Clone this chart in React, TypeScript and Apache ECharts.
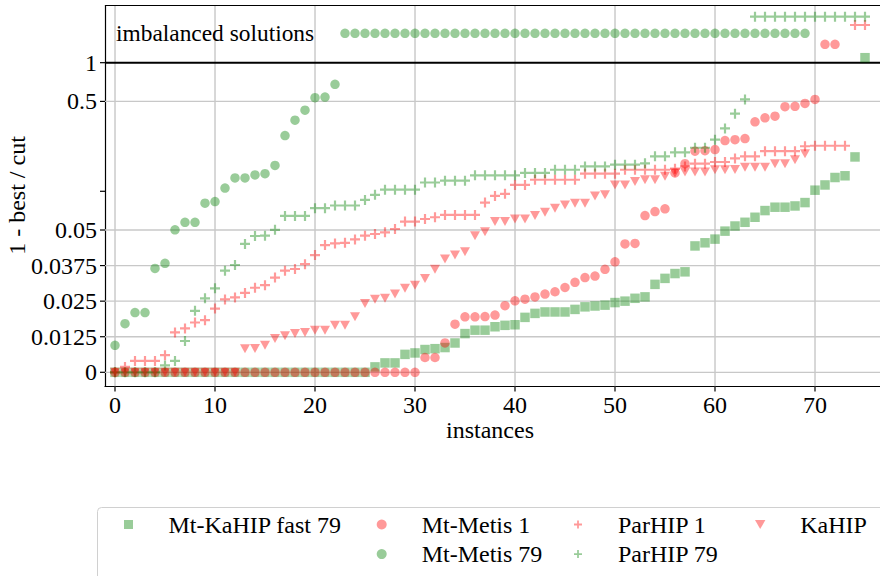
import React, { useEffect, useRef } from 'react';
import * as echarts from 'echarts';

// ---------- data ----------
const IMB = -1; // imbalanced solution marker

const X_TICKS = [0, 10, 20, 30, 40, 50, 60, 70];
const Y_TICKS = [0, 0.0125, 0.025, 0.0375, 0.05, 0.1, 0.5, 1];
const Y_TICK_LABELS = ['0', '0.0125', '0.025', '0.0375', '0.05', '', '0.5', '1'];

const MT_KAHIP_FAST_79 = [
  0, 0, 0, 0, 0, 0, 0, 0, 0, 0,
  0, 0, 0, 0, 0, 0, 0, 0, 0, 0,
  0, 0, 0, 0, 0, 0,
  0.0019, 0.0033, 0.0033, 0.0063, 0.0068, 0.008, 0.0083, 0.0087, 0.0103, 0.0136,
  0.0148, 0.0148, 0.016, 0.0165, 0.0167, 0.0193, 0.0207, 0.0212, 0.0212, 0.0212,
  0.0221, 0.023, 0.0233, 0.0236, 0.0245, 0.025, 0.026, 0.0265, 0.0309, 0.033,
  0.0347, 0.0353, 0.0444, 0.0455, 0.0468, 0.0496, 0.0537, 0.0574, 0.0628, 0.0708,
  0.0752, 0.0752, 0.0769, 0.0817, 0.102, 0.112, 0.128, 0.132, 0.185, IMB,
];

const MT_METIS_1 = [
  0, 0, 0, 0, 0, 0, 0, 0, 0, 0,
  0, 0, 0, 0, 0, 0, 0, 0, 0, 0,
  0, 0, 0, 0, 0, 0, 0, 0, 0, 0,
  0,
  0.0052, 0.0052, 0.0103, 0.0169, 0.0195, 0.0195, 0.0196, 0.0201, 0.0234, 0.0251,
  0.0257, 0.0265, 0.0275, 0.0283, 0.0298, 0.0316, 0.0333, 0.0338, 0.0362, 0.0388,
  0.0451, 0.0453, 0.0647, 0.0695, 0.073, 0.139, 0.164, 0.205, 0.207, 0.211,
  0.248, 0.252, 0.257, 0.347, 0.373, 0.384, 0.455, 0.458, 0.482, 0.518,
  IMB, IMB,
];

const MT_METIS_79 = [
  0.0095, 0.0171, 0.021, 0.021, 0.0365, 0.0383, 0.0502, 0.0574, 0.0574, 0.0808,
  0.0832, 0.106, 0.127, 0.127, 0.134, 0.137, 0.159, 0.271, 0.357, 0.427,
  0.534, 0.54, 0.679,
  IMB, IMB, IMB, IMB, IMB, IMB, IMB, IMB, IMB, IMB,
  IMB, IMB, IMB, IMB, IMB, IMB, IMB, IMB, IMB, IMB,
  IMB, IMB, IMB, IMB, IMB, IMB, IMB, IMB, IMB, IMB,
  IMB, IMB, IMB, IMB, IMB, IMB, IMB, IMB, IMB, IMB,
  IMB, IMB, IMB, IMB, IMB, IMB, IMB,
];

const PARHIP_1 = [
  0, 0.0019, 0.004, 0.004, 0.004, 0.006, 0.014, 0.0154, 0.0175, 0.0183,
  0.0224, 0.0256, 0.0263, 0.0279, 0.0297, 0.0306, 0.0333, 0.0357, 0.0363, 0.038,
  0.0412, 0.0447, 0.0453, 0.0455, 0.0467, 0.048, 0.0486, 0.0492, 0.0509, 0.0581,
  0.0581, 0.0609, 0.0628, 0.0655, 0.0655, 0.0655, 0.0655, 0.0817, 0.092, 0.0955,
  0.112, 0.112, 0.123, 0.123, 0.123, 0.123, 0.123, 0.137, 0.137, 0.137,
  0.137, 0.147, 0.147, 0.147, 0.147, 0.147, 0.15, 0.156, 0.164, 0.164,
  0.169, 0.169, 0.18, 0.187, 0.187, 0.205, 0.205, 0.205, 0.205, 0.224,
  0.226, 0.226, 0.226, 0.226, IMB, IMB,
];

const PARHIP_79 = [
  0, 0, 0, 0, 0, 0.0024, 0.004, 0.011, 0.0216, 0.026,
  0.0295, 0.0357, 0.0377, 0.0451, 0.0479, 0.048, 0.0502, 0.0643, 0.0643, 0.0643,
  0.0739, 0.0739, 0.0775, 0.0775, 0.0775, 0.0857, 0.0938, 0.103, 0.103, 0.103,
  0.103, 0.117, 0.117, 0.121, 0.121, 0.121, 0.133, 0.133, 0.133, 0.133,
  0.133, 0.139, 0.139, 0.139, 0.147, 0.147, 0.147, 0.156, 0.156, 0.156,
  0.161, 0.161, 0.161, 0.165, 0.187, 0.187, 0.201, 0.201, 0.218, 0.218,
  0.252, 0.308, 0.401, 0.518,
  IMB, IMB, IMB, IMB, IMB, IMB, IMB, IMB, IMB, IMB, IMB, IMB,
];

const KAHIP = [
  0, 0, 0, 0, 0, 0, 0, 0, 0, 0,
  0, 0, 0, 0.0083, 0.0084, 0.0095, 0.0119, 0.0128, 0.0136, 0.014,
  0.0148, 0.0148, 0.0165, 0.0165, 0.0195, 0.0242, 0.0257, 0.026, 0.0275, 0.0295,
  0.0306, 0.033, 0.0362, 0.0398, 0.0412, 0.0424, 0.048, 0.0494, 0.0581, 0.0581,
  0.0609, 0.0609, 0.0647, 0.0688, 0.0739, 0.0784, 0.0808, 0.0808, 0.092, 0.0938,
  0.112, 0.112, 0.119, 0.123, 0.123, 0.131, 0.139, 0.141, 0.141, 0.141,
  0.147, 0.147, 0.148, 0.154, 0.154, 0.154, 0.164, 0.164, 0.176, 0.196,
];

// ---------- scale (linear up to 0.05, log above) ----------
const LIN_SPAN = 142.3; // axis units for 0 .. 0.05
const DECADE = 128.6; // axis units per decade above 0.05
const BREAK = 0.05;
const f = (v: number) => (v <= BREAK ? (v / BREAK) * LIN_SPAN : LIN_SPAN + DECADE * Math.log10(v / BREAK));
const Y_MIN = -14.2;
const Y_MAX = 366.8;
const X_MIN = -1;
const X_MAX = 76.5;

// ---------- styles ----------
const GREEN = 'rgba(0,128,0,0.5)';
const RED = 'rgba(255,0,0,0.5)';
const SQUARE = 'path://M0,0h10v10h-10z';
const PLUS = 'path://M3.9,0h2.2v3.9h3.9v2.2h-3.9v3.9h-2.2v-3.9h-3.9v-2.2h3.9z';
const TRI = 'path://M0,0L10,0L5,8.66Z';
const FONT = 'Liberation Serif';

const SERIES = [
  { name: 'Mt-KaHIP fast 79', data: MT_KAHIP_FAST_79, color: GREEN, symbol: SQUARE, size: 9.5, imbRow: 314.6 },
  { name: 'Mt-Metis 1', data: MT_METIS_1, color: RED, symbol: 'circle', size: 9.5, imbRow: 328 },
  { name: 'Mt-Metis 79', data: MT_METIS_79, color: GREEN, symbol: 'circle', size: 9.5, imbRow: 339 },
  { name: 'ParHIP 1', data: PARHIP_1, color: RED, symbol: PLUS, size: 10, imbRow: 347.3 },
  { name: 'ParHIP 79', data: PARHIP_79, color: GREEN, symbol: PLUS, size: 10, imbRow: 355.6 },
  { name: 'KaHIP', data: KAHIP, color: RED, symbol: TRI, size: [10, 9], imbRow: 360 },
];

const textStyle = (text: string, size: number, align: string, vAlign: string) => ({
  text,
  fill: '#000',
  fontSize: size,
  fontFamily: FONT,
  align,
  verticalAlign: vAlign,
  textAlign: align,
  textVerticalAlign: vAlign,
});

export default function App() {
  const ref = useRef<HTMLDivElement>(null);

  useEffect(() => {
    document.body.style.margin = '0';
    if (!ref.current) return;
    const chart = echarts.init(ref.current, undefined, { renderer: 'svg' });

    const scatterSeries = SERIES.map((s) => ({
      type: 'scatter',
      name: s.name,
      symbol: s.symbol,
      symbolSize: s.size,
      z: 3,
      itemStyle: { color: s.color },
      emphasis: { disabled: true },
      data: s.data.map((v, i) => [i, v === IMB ? s.imbRow : f(v)]),
    }));

    const xTickSeries = {
      type: 'custom',
      name: '_xticks',
      silent: true,
      clip: false,
      z: 1,
      data: X_TICKS.map((v) => [v, Y_MIN]),
      renderItem: (params: any, api: any) => {
        const cs = params.coordSys;
        const v = api.value(0);
        const p = api.coord([v, Y_MIN]);
        const bottom = cs.y + cs.height;
        return {
          type: 'group',
          children: [
            { type: 'line', shape: { x1: p[0], y1: cs.y, x2: p[0], y2: bottom }, style: { stroke: '#b0b0b0', lineWidth: 1 } },
            { type: 'line', shape: { x1: p[0], y1: bottom, x2: p[0], y2: bottom + 5 }, style: { stroke: '#000', lineWidth: 1.2 } },
            { type: 'text', x: p[0], y: bottom + 18, style: textStyle(String(v), 24, 'center', 'middle') },
          ],
        };
      },
    };

    const yTickSeries = {
      type: 'custom',
      name: '_yticks',
      silent: true,
      clip: false,
      z: 1,
      data: Y_TICKS.map((v, i) => [X_MIN, f(v), i]),
      renderItem: (params: any, api: any) => {
        const cs = params.coordSys;
        const idx = api.value(2);
        const p = api.coord([X_MIN, api.value(1)]);
        const left = cs.x;
        const right = cs.x + cs.width;
        const label = Y_TICK_LABELS[idx];
        const isOne = Y_TICKS[idx] === 1;
        const children: any[] = [];
        if (isOne) {
          children.push({ type: 'line', z2: 10, shape: { x1: left, y1: p[1], x2: right, y2: p[1] }, style: { stroke: '#000', lineWidth: 2 } });
        } else if (label !== '') {
          children.push({ type: 'line', shape: { x1: left, y1: p[1], x2: right, y2: p[1] }, style: { stroke: '#c8c8c8', lineWidth: 1.3 } });
        }
        children.push({ type: 'line', shape: { x1: left - 5, y1: p[1], x2: left, y2: p[1] }, style: { stroke: '#000', lineWidth: 1.2 } });
        if (label !== '') {
          children.push({ type: 'text', x: left - 8, y: p[1], style: textStyle(label, 24, 'right', 'middle') });
        }
        return { type: 'group', children };
      },
    };

    const frameSeries = {
      type: 'custom',
      name: '_frame',
      silent: true,
      clip: false,
      z: 4,
      data: [[X_MIN, Y_MAX]],
      renderItem: (params: any) => {
        const cs = params.coordSys;
        return {
          type: 'line',
          shape: { x1: cs.x, y1: cs.y, x2: cs.x + cs.width, y2: cs.y },
          style: { stroke: '#000', lineWidth: 1.2 },
        };
      },
    };

    const legendText = { fontFamily: FONT, fontSize: 24, color: '#000' };
    const legendBase = {
      padding: 0,
      itemWidth: 70,
      selectedMode: false,
      orient: 'vertical',
      itemGap: 5.6,
      textStyle: legendText,
      top: 512.5,
    };

    chart.setOption({
      animation: false,
      grid: { left: 105, right: 0, top: 5.5, bottom: 189.5, containLabel: false },
      xAxis: {
        type: 'value',
        min: X_MIN,
        max: X_MAX,
        axisLine: { onZero: false, lineStyle: { color: '#000', width: 1.2 } },
        axisTick: { show: false },
        axisLabel: { show: false },
        splitLine: { show: false },
      },
      yAxis: {
        type: 'value',
        min: Y_MIN,
        max: Y_MAX,
        axisLine: { show: true, onZero: false, lineStyle: { color: '#000', width: 1.2 } },
        axisTick: { show: false },
        axisLabel: { show: false },
        splitLine: { show: false },
      },
      legend: [
        { ...legendBase, left: 124, itemHeight: 9, data: [{ name: 'Mt-KaHIP fast 79', icon: SQUARE }] },
        { ...legendBase, left: 376.7, itemHeight: 10, data: [{ name: 'Mt-Metis 1', icon: 'circle' }, { name: 'Mt-Metis 79', icon: 'circle' }] },
        { ...legendBase, left: 574, itemHeight: 8, data: [{ name: 'ParHIP 1', icon: PLUS }, { name: 'ParHIP 79', icon: PLUS }] },
        { ...legendBase, left: 755, itemHeight: 9, data: [{ name: 'KaHIP', icon: TRI }] },
      ],
      graphic: [
        { type: 'rect', z: 0, left: 97, top: 507, shape: { width: 820, height: 100, r: 4 }, style: { fill: '#fff', stroke: '#d0d0d0', lineWidth: 1 } },
        { type: 'text', z: 5, x: 116, y: 32.6, style: textStyle('imbalanced solutions', 23.4, 'left', 'middle') },
        { type: 'text', z: 5, x: 17, y: 195.5, rotation: Math.PI / 2, style: textStyle('1 - best / cut', 24, 'center', 'middle') },
        { type: 'text', z: 5, x: 490, y: 430, style: textStyle('instances', 24, 'center', 'middle') },
      ],
      series: [xTickSeries, yTickSeries, ...scatterSeries, frameSeries],
    });

    return () => chart.dispose();
  }, []);

  return <div ref={ref} style={{ width: 880, height: 576, overflow: 'hidden' }} />;
}
